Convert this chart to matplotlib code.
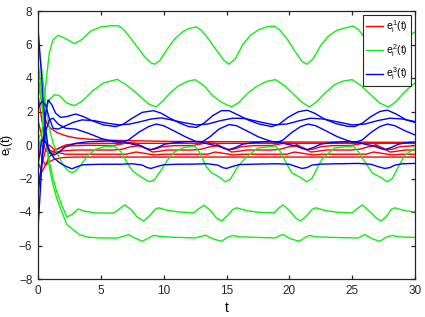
import matplotlib
matplotlib.use("Agg")
import matplotlib.pyplot as plt

plt.rcParams['font.family'] = ['Liberation Sans', 'DejaVu Sans']
plt.rcParams['mathtext.fontset'] = 'custom'
plt.rcParams['mathtext.rm'] = 'Liberation Sans'
plt.rcParams['mathtext.it'] = 'Liberation Sans'

# ---------------- data ----------------
# red curves  e_i^1(t)
r1_t = [0, 0.2, 0.4, 0.7, 1.0, 1.5, 2.2, 3.0, 4.0, 6, 10, 15, 20, 25, 30]
r1_v = [4.0, 3.0, 2.0, 1.3, 1.0, 0.75, 0.55, 0.42, 0.35, 0.28, 0.22, 0.2, 0.18, 0.17, 0.16]
r2_t = [0, 0.3, 0.6, 0.9, 1.2, 1.6, 2.2, 3.0, 5, 10, 20, 30]
r2_v = [3.0, 1.5, 0.3, -0.3, -0.4, -0.2, 0.0, 0.08, 0.1, 0.1, 0.1, 0.1]
r3_t = [0, 0.3, 0.6, 0.9, 1.3, 1.8, 2.5, 4, 6.0, 6.6, 7.2, 7.8, 8.3, 8.8, 9.3, 9.9, 10.8,
        12.3, 12.9, 13.5, 14.1, 14.6, 15.1, 15.6, 16.2, 17.1, 18.6, 19.2, 19.8, 20.4, 20.9,
        21.4, 21.9, 22.5, 23.4, 24.9, 25.5, 26.1, 26.7, 27.2, 27.7, 28.2, 28.8, 30]
r3_v = [1.5, 0.5, -0.3, -0.5, -0.35, -0.15, -0.05, -0.02, -0.03, 0.05, 0.15, 0.1, -0.1, -0.28,
        -0.25, -0.1, -0.04, -0.03, 0.05, 0.15, 0.1, -0.1, -0.28, -0.25, -0.1, -0.04, -0.03, 0.05,
        0.15, 0.1, -0.1, -0.28, -0.25, -0.1, -0.04, -0.03, 0.05, 0.15, 0.1, -0.1, -0.28, -0.25,
        -0.1, -0.04]
r4_t = [0, 0.3, 0.6, 0.9, 1.3, 2.0, 3, 6.0, 6.7, 7.4, 8.0, 8.6, 9.1, 9.6, 10.3, 12.3, 13.0,
        13.7, 14.3, 14.9, 15.4, 15.9, 16.6, 18.6, 19.3, 20.0, 20.6, 21.2, 21.7, 22.2, 22.9, 24.9,
        25.6, 26.3, 26.9, 27.5, 28.0, 28.5, 29.2, 30]
r4_v = [-1.0, -1.6, -1.2, -0.7, -0.45, -0.35, -0.3, -0.3, -0.25, -0.1, -0.05, -0.2, -0.42,
        -0.38, -0.3, -0.3, -0.25, -0.1, -0.05, -0.2, -0.42, -0.38, -0.3, -0.3, -0.25, -0.1,
        -0.05, -0.2, -0.42, -0.38, -0.3, -0.3, -0.25, -0.1, -0.05, -0.2, -0.42, -0.38, -0.3, -0.3]
r5_t = [0, 0.3, 0.6, 0.9, 1.2, 1.6, 2.2, 3, 7, 7.8, 8.5, 9.3, 10, 13.5, 14.1, 14.8, 15.6, 16.3,
        19.8, 20.4, 21.1, 21.9, 22.6, 26.1, 26.7, 27.4, 28.2, 28.9, 30]
r5_v = [-2.5, -1.2, -0.3, 0.0, -0.2, -0.45, -0.55, -0.55, -0.55, -0.42, -0.5, -0.6, -0.55,
        -0.55, -0.42, -0.5, -0.6, -0.55, -0.55, -0.42, -0.5, -0.6, -0.55, -0.55, -0.42, -0.5,
        -0.6, -0.55, -0.55]
r6_t = [0, 0.3, 0.6, 0.9, 1.3, 2.0, 3, 10, 20, 30]
r6_v = [0.5, -0.8, -1.2, -1.0, -0.85, -0.75, -0.72, -0.72, -0.72, -0.72]

# green curves  e_i^2(t)
g1_t = [0, 0.3, 0.6, 0.9, 1.2, 1.6, 2.2, 2.9, 3.5, 4.2, 5.0, 5.8, 6.4, 6.8, 7.3, 7.9, 8.5, 9.0,
        9.3, 9.7, 10.3, 10.9, 11.5, 12.0, 12.6, 13.0, 13.6, 14.2, 14.8, 15.2, 15.7, 16.3, 16.9,
        17.6, 18.2, 18.8, 19.2, 19.8, 20.4, 21.0, 21.4, 21.9, 22.5, 23.1, 23.8, 24.5, 25.1, 25.5,
        26.1, 26.7, 27.2, 27.6, 28.1, 28.7, 29.3, 30]
g1_v = [-0.5, 0.5, 3.5, 5.5, 6.3, 6.55, 6.35, 6.05, 6.3, 6.8, 7.05, 7.12, 7.12, 6.9, 6.45, 5.85,
        5.25, 4.9, 4.82, 5.05, 5.75, 6.35, 6.75, 6.95, 7.05, 6.85, 6.3, 5.65, 5.05, 4.82, 5.15,
        6.0, 6.55, 6.9, 7.05, 7.1, 6.9, 6.35, 5.65, 5.0, 4.82, 5.15, 5.95, 6.5, 6.85, 7.0, 7.1,
        6.9, 6.3, 5.6, 5.02, 4.82, 5.15, 5.9, 6.4, 6.75]
g2_t = [0, 0.3, 0.6, 0.9, 1.3, 1.7, 2.3, 2.9, 3.5, 4.3, 5.2, 6.3, 7.0, 7.6, 8.2, 8.8, 9.4, 9.9,
        10.5, 11.2, 11.9, 12.5, 13.2, 13.9, 14.6, 15.4, 16.0, 16.7, 17.4, 18.2, 18.9, 19.6, 20.3,
        21.0, 21.6, 22.2, 22.9, 23.6, 24.3, 25.0, 25.7, 26.4, 27.2, 27.9, 28.5, 29.2, 30]
g2_v = [0.3, 0.8, 2.0, 2.7, 3.0, 2.95, 2.5, 2.35, 2.6, 3.2, 3.7, 3.92, 3.6, 3.25, 2.85, 2.45,
        2.27, 2.6, 3.1, 3.55, 3.8, 3.9, 3.55, 2.95, 2.55, 2.27, 2.55, 3.1, 3.5, 3.8, 3.9, 3.55,
        3.05, 2.55, 2.27, 2.6, 3.15, 3.6, 3.82, 3.9, 3.55, 3.05, 2.5, 2.27, 2.6, 3.2, 3.7]
g3_t = [0, 0.3, 0.6, 0.9, 1.2, 1.6, 2.0, 2.4, 2.7, 3.0, 3.5, 4.0, 4.6, 5.3, 6.1, 6.6, 7.2, 7.6,
        8.0, 8.5, 8.9, 9.3, 9.8, 10.3, 10.9, 11.6, 12.5, 12.9, 13.4, 13.8, 14.4, 14.9, 15.3, 15.8,
        16.5, 17.5, 18.9, 19.3, 19.7, 20.2, 20.8, 21.4, 21.8, 22.2, 22.6, 23.6, 25.1, 25.5, 26.0,
        26.6, 27.2, 27.8, 28.2, 28.6, 29.2, 30]
g3_v = [6.0, 4.5, 2.5, 1.0, 0.1, -0.6, -1.2, -1.55, -1.65, -1.55, -1.1, -0.6, -0.25, -0.1,
        -0.06, -0.4, -1.2, -1.6, -1.8, -2.05, -2.2, -2.05, -1.5, -0.9, -0.4, -0.15, -0.06, -0.5,
        -1.3, -1.65, -1.9, -2.2, -2.05, -1.4, -0.78, -0.18, -0.06, -0.4, -1.0, -1.67, -1.9, -2.2,
        -2.0, -1.4, -0.85, -0.18, -0.06, -0.4, -1.0, -1.67, -1.9, -2.2, -2.0, -1.4, -0.6, -0.2]
g5_t = [0, 0.3, 0.6, 0.9, 1.2, 1.5, 1.9, 2.3, 2.7, 3.2, 3.7, 4.5, 5.5, 6.1, 6.5, 6.9, 7.4, 7.9,
        8.4, 8.9, 9.3, 9.6, 10.3, 11.2, 12.4, 12.8, 13.2, 13.7, 14.2, 14.6, 15.1, 15.5, 15.8, 16.6,
        17.6, 18.8, 19.1, 19.5, 20.0, 20.5, 20.9, 21.4, 21.8, 22.1, 22.9, 23.9, 25.0, 25.4, 25.8,
        26.3, 26.9, 27.3, 27.8, 28.1, 28.4, 29.2, 30]
g5_v = [5.0, 3.0, 0.8, -1.0, -2.0, -2.8, -3.6, -4.3, -4.15, -3.82, -3.95, -4.05, -4.07, -4.05,
        -3.8, -3.58, -3.85, -4.3, -4.54, -4.2, -3.85, -3.75, -3.9, -4.0, -4.05, -3.8, -3.6, -3.9,
        -4.35, -4.54, -4.2, -3.85, -3.75, -3.92, -4.02, -4.05, -3.8, -3.58, -3.9, -4.35, -4.54,
        -4.2, -3.85, -3.75, -3.92, -4.02, -4.05, -3.8, -3.58, -3.9, -4.35, -4.54, -4.2, -3.85,
        -3.75, -3.92, -4.0]
g6_t = [0, 0.3, 0.6, 0.9, 1.2, 1.5, 1.9, 2.3, 2.7, 3.3, 4.0, 4.9, 6.3, 6.8, 7.2, 7.7, 8.3, 8.8,
        9.2, 9.7, 10.5, 12.5, 13.0, 13.3, 13.9, 14.6, 15.1, 15.5, 16.0, 17.5, 18.9, 19.2, 19.5,
        20.1, 20.8, 21.3, 21.6, 22.1, 23.5, 25.5, 25.8, 26.0, 26.6, 27.2, 27.7, 28.2, 28.7, 30]
g6_v = [4.0, 2.5, 0.5, -1.3, -2.4, -3.2, -4.0, -4.75, -5.0, -5.35, -5.5, -5.55, -5.56, -5.45,
        -5.35, -5.55, -5.75, -5.55, -5.4, -5.45, -5.5, -5.55, -5.45, -5.38, -5.6, -5.75, -5.5,
        -5.4, -5.48, -5.52, -5.55, -5.42, -5.35, -5.6, -5.75, -5.5, -5.4, -5.48, -5.52, -5.55,
        -5.42, -5.35, -5.6, -5.75, -5.5, -5.4, -5.48, -5.52]

# blue curves  e_i^3(t)
b1_t = [0, 0.2, 0.4, 0.6, 0.8, 1.1, 1.4, 1.8, 2.3, 3.0, 3.6, 4.3, 5.2, 6.2, 6.8, 7.5, 8.3, 9.2,
        9.8, 10.5, 11.3, 12.0, 12.6, 13.2, 13.9, 14.6, 15.2, 15.9, 16.7, 17.6, 18.6, 19.2, 19.9,
        20.7, 21.4, 22.0, 22.8, 23.7, 24.6, 25.2, 25.8, 26.5, 27.2, 27.8, 28.5, 29.3, 30]
b1_v = [-5.0, -2.5, 0.0, 1.8, 2.7, 2.4, 1.9, 1.65, 1.7, 1.85, 1.7, 1.45, 1.2, 1.1, 1.25, 1.6,
        1.95, 2.05, 1.9, 1.6, 1.3, 1.1, 1.05, 1.3, 1.75, 2.05, 2.05, 1.8, 1.5, 1.25, 1.1, 1.25,
        1.65, 1.98, 2.08, 1.9, 1.55, 1.28, 1.12, 1.1, 1.3, 1.7, 2.0, 2.08, 1.85, 1.5, 1.35]
b2_t = [0, 0.3, 0.6, 0.9, 1.2, 1.6, 2.2, 2.8, 3.5, 4.5, 5.5, 6.5, 7.3, 8.2, 9.0, 9.8, 10.6,
        11.5, 12.6, 13.5, 14.5, 15.5, 16.5, 17.5, 18.8, 19.8, 20.8, 21.7, 22.7, 23.7, 25.0, 26.0,
        27.0, 28.0, 29.0, 30]
b2_v = [2.2, 2.6, 2.4, 1.6, 1.0, 0.95, 1.15, 1.35, 1.5, 1.45, 1.3, 1.2, 1.25, 1.4, 1.55, 1.62,
        1.5, 1.35, 1.2, 1.25, 1.45, 1.6, 1.58, 1.4, 1.2, 1.25, 1.45, 1.6, 1.55, 1.4, 1.2, 1.25,
        1.45, 1.6, 1.55, 1.4]
b3_t = [0, 0.3, 0.6, 0.9, 1.2, 1.6, 2.2, 3.0, 4.0, 5.0, 6.0, 6.6, 7.2, 8.0, 8.8, 9.4, 10.0,
        10.8, 11.7, 12.6, 13.1, 13.7, 14.4, 15.2, 15.8, 16.6, 17.5, 18.4, 19.0, 19.5, 20.2, 20.9,
        21.5, 22.1, 22.9, 23.8, 24.7, 25.2, 25.8, 26.5, 27.2, 27.8, 28.4, 29.2, 30]
b3_v = [-3.0, -1.0, 0.8, 1.5, 1.6, 1.25, 1.0, 0.95, 0.7, 0.4, 0.2, 0.15, 0.3, 0.75, 1.1, 1.25,
        1.15, 0.85, 0.5, 0.2, 0.2, 0.5, 0.95, 1.22, 1.15, 0.85, 0.5, 0.25, 0.15, 0.3, 0.75, 1.1,
        1.25, 1.15, 0.85, 0.5, 0.25, 0.15, 0.3, 0.75, 1.1, 1.25, 1.15, 0.85, 0.6]
b4_t = [0, 0.2, 0.4, 0.6, 0.8, 1.0, 1.3, 1.7, 2.2, 3.0, 4.0, 5.0, 6.0, 6.8, 7.5, 8.2, 8.6, 9.0,
        9.5, 10.1, 11.0, 12.0, 12.8, 13.6, 14.3, 14.8, 15.2, 15.7, 16.3, 17.2, 18.2, 19.0, 19.8,
        20.5, 21.0, 21.4, 21.9, 22.5, 23.4, 24.4, 25.2, 26.0, 26.7, 27.2, 27.6, 28.1, 28.7, 29.4, 30]
b4_v = [7.0, 5.0, 2.8, 1.0, -0.1, -0.5, -0.6, -0.4, -0.1, 0.1, 0.2, 0.22, 0.25, 0.2, 0.05,
        -0.05, -0.2, -0.28, -0.15, 0.05, 0.15, 0.2, 0.2, 0.05, -0.05, -0.2, -0.28, -0.15, 0.05,
        0.15, 0.2, 0.2, 0.05, -0.05, -0.2, -0.28, -0.15, 0.05, 0.15, 0.2, 0.2, 0.05, -0.05, -0.2,
        -0.28, -0.15, 0.05, 0.15, 0.18]
b5_t = [0, 0.3, 0.6, 0.9, 1.3, 1.8, 2.3, 2.7, 3.1, 3.6, 5.0, 6.5, 7.5, 8.3, 8.7, 9.0, 9.4, 10.0,
        11.0, 12.5, 13.5, 14.3, 14.7, 15.0, 15.4, 16.0, 17.5, 19.0, 20.0, 20.6, 21.0, 21.4, 21.8,
        22.5, 24.0, 25.5, 26.5, 27.1, 27.6, 28.0, 28.4, 29.0, 30]
b5_v = [-1.2, 0.3, 0.2, -0.4, -0.8, -1.1, -1.3, -1.42, -1.3, -1.18, -1.15, -1.15, -1.12, -1.2,
        -1.35, -1.4, -1.3, -1.18, -1.15, -1.14, -1.12, -1.2, -1.35, -1.4, -1.3, -1.17, -1.14,
        -1.12, -1.15, -1.3, -1.4, -1.35, -1.2, -1.14, -1.12, -1.1, -1.15, -1.3, -1.4, -1.35, -1.2,
        -1.12, -1.1]

red_curves = [(r1_t, r1_v), (r2_t, r2_v), (r3_t, r3_v), (r4_t, r4_v), (r5_t, r5_v), (r6_t, r6_v)]
green_curves = [(g1_t, g1_v), (g2_t, g2_v), (g3_t, g3_v), (g5_t, g5_v), (g6_t, g6_v)]
blue_curves = [(b1_t, b1_v), (b2_t, b2_v), (b3_t, b3_v), (b4_t, b4_v), (b5_t, b5_v)]

x_ticks = [0, 5, 10, 15, 20, 25, 30]
y_ticks = [-8, -6, -4, -2, 0, 2, 4, 6, 8]
labels = [r'$e_i^1(t)$', r'$e_i^2(t)$', r'$e_i^3(t)$']

# ---------------- plot ----------------
fig = plt.figure(figsize=(4.25, 3.17), dpi=100)
ax = fig.add_axes([38 / 425, 1 - 279 / 317, (415 - 38) / 425, (279 - 11) / 317])

lw = 1.0
handles = []
for color, curves, lab in [('#ff0000', red_curves, labels[0]),
                           ('#11ee11', green_curves, labels[1]),
                           ('#0000ff', blue_curves, labels[2])]:
    for k, (tt, vv) in enumerate(curves):
        ln, = ax.plot(tt, vv, color=color, lw=lw, label=lab if k == 0 else None)
        if k == 0:
            handles.append(ln)

ax.set_xlim(0, 30)
ax.set_ylim(-8, 8)
ax.set_xticks(x_ticks)
ax.set_yticks(y_ticks)
ax.tick_params(direction='in', length=3, width=0.9, top=True, right=True,
               labelsize=8.5, colors='#262626', pad=4)
for lbl in ax.get_xticklabels() + ax.get_yticklabels():
    lbl.set_fontweight('medium')
for s in ax.spines.values():
    s.set_color('#262626')
    s.set_linewidth(0.9)

ax.set_xlabel('t', fontsize=10, labelpad=3)
ax.set_ylabel(r'$e_i(t)$', fontsize=9, labelpad=3)

leg = ax.legend(handles=handles, loc='upper right', fontsize=7.5, frameon=True,
                fancybox=False, edgecolor='#262626', framealpha=1,
                handlelength=1.6, handletextpad=0.3, borderpad=0.35,
                labelspacing=0.65, borderaxespad=0.35)
leg.get_frame().set_linewidth(0.8)

fig.savefig('out.png', dpi=100)
